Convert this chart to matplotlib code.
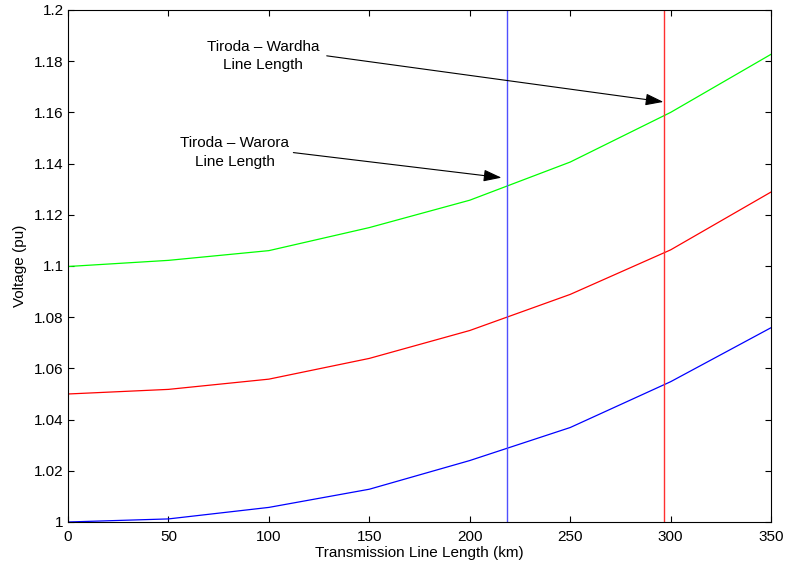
import matplotlib.pyplot as plt

plt.rcParams['font.family'] = ['Liberation Sans', 'DejaVu Sans']
plt.rcParams['font.size'] = 11

# line length (km)
length_km = [0, 50, 100, 150, 200, 250, 300, 350]

# receiving end voltage (pu) for three cases
v_blue = [1.000, 1.0012, 1.0057, 1.0128, 1.0240, 1.0369, 1.0548, 1.0759]
v_red = [1.050, 1.0518, 1.0558, 1.0639, 1.0748, 1.0889, 1.1063, 1.1289]
v_green = [1.0998, 1.1022, 1.1060, 1.1150, 1.1257, 1.1406, 1.1600, 1.1827]

# actual line lengths
warora_km = 218.6
wardha_km = 296.8

fig = plt.figure(figsize=(7.86, 5.68), dpi=100)
ax = fig.add_axes([0.0865, 0.081, 0.8945, 0.9014])

ax.plot(length_km, v_blue, color='#0000ff', lw=0.9)
ax.plot(length_km, v_red, color='#ff0000', lw=0.9)
ax.plot(length_km, v_green, color='#00ff00', lw=0.9)

ax.axvline(warora_km, color='#5050ff', lw=1.0)
ax.axvline(wardha_km, color='#ff3030', lw=1.0)

ax.set_xlim(0, 350)
ax.set_ylim(1, 1.2)
ax.set_xticks(range(0, 351, 50))
ax.set_yticks([1 + 0.02 * i for i in range(11)])
ax.set_yticklabels(['1', '1.02', '1.04', '1.06', '1.08', '1.1', '1.12',
                    '1.14', '1.16', '1.18', '1.2'])
ax.tick_params(direction='in', top=True, right=True, length=4, pad=3)
ax.tick_params(axis='x', pad=6)
ax.set_xlabel('Transmission Line Length (km)', labelpad=1)
ax.set_ylabel('Voltage (pu)', labelpad=5)

# annotations
ax.text(97, 1.182, 'Tiroda \u2013 Wardha\nLine Length', ha='center', va='center',
        linespacing=1.4)
ax.text(83, 1.1443, 'Tiroda \u2013 Warora\nLine Length', ha='center', va='center',
        linespacing=1.4)
arrow = dict(arrowstyle='-|>,head_length=1.0,head_width=0.33', color='k',
             lw=0.8, shrinkA=0, shrinkB=0)
ax.annotate('', xy=(296.4, 1.1641), xytext=(128.8, 1.1821), arrowprops=arrow)
ax.annotate('', xy=(215.8, 1.1345), xytext=(112.2, 1.1443), arrowprops=arrow)

for s in ax.spines.values():
    s.set_linewidth(0.8)

fig.savefig('out.png', dpi=100)
